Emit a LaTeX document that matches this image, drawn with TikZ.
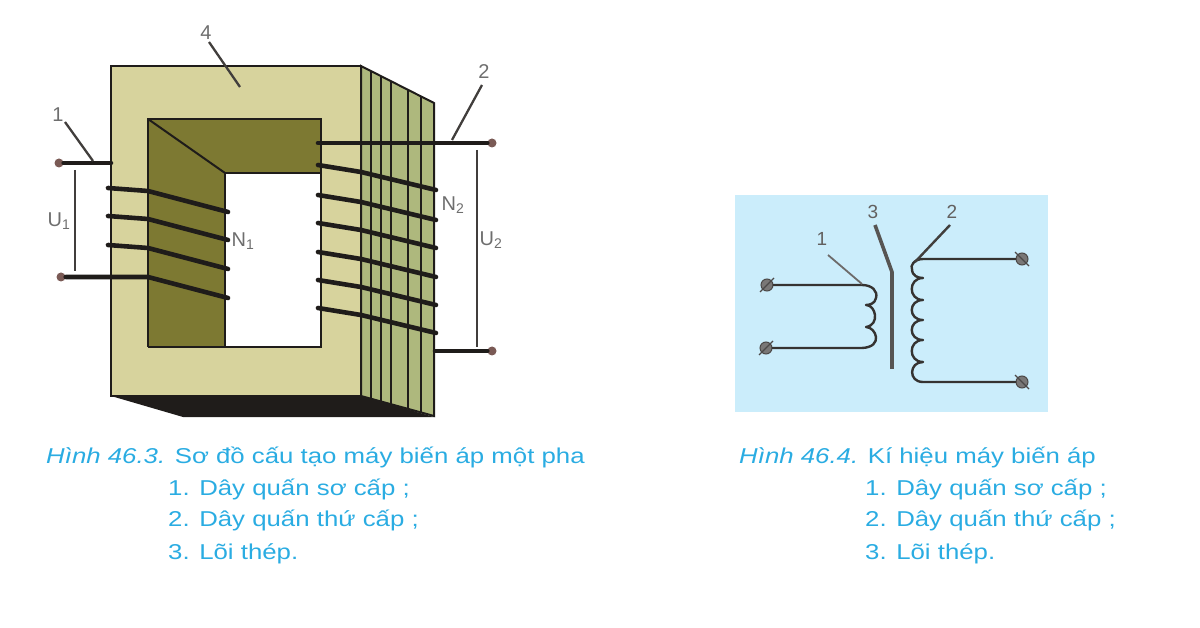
\documentclass[tikz,border=0pt]{standalone}
\usepackage{fontspec}
\setmainfont{Liberation Sans}
\newfontfamily\capfont[FakeStretch=1.2]{Liberation Sans}
\definecolor{cream}{HTML}{D7D39D}
\definecolor{olive}{HTML}{7D7932}
\definecolor{sage}{HTML}{AEB87D}
\definecolor{ink}{HTML}{1F1C1A}
\definecolor{capblue}{HTML}{2AACE2}
\definecolor{panel}{HTML}{CBEDFB}
\definecolor{labelgray}{HTML}{6E6E6E}
\definecolor{term}{HTML}{7A5A55}
\tikzset{
 coreline/.style={draw=ink,line width=2pt,line join=miter},
 coilwire/.style={draw=ink,line width=4.6pt,line cap=round,line join=round},
 leaderline/.style={draw=ink!85,line width=2.3pt},
 dimline/.style={draw=ink!85,line width=1.7pt},
 tagtext/.style={text=labelgray,font=\fontsize{20}{20}\selectfont,inner sep=0pt},
 darktag/.style={text=ink!70,font=\fontsize{19}{19}\selectfont,inner sep=0pt},
 captext/.style={text=capblue,font=\capfont\fontsize{21.5}{21.5}\selectfont,inner sep=0pt,anchor=base west},
 termdot/.style={circle,fill=term,inner sep=0pt,minimum size=9pt},
 screwdot/.style={circle,fill=ink!60,draw=ink!80,line width=1pt,inner sep=0pt,minimum size=12pt},
 symwire/.style={draw=ink!90,line width=2.4pt,line cap=round,line join=round},
}
\begin{document}
\begin{tikzpicture}[x=1pt,y=-1pt]
\useasboundingbox (0,0) rectangle (1200,628);
% shadow
\fill[ink] (111,396) -- (183,417) -- (434,417) -- (361,396) -- cycle;
% side laminations
\filldraw[fill=sage,coreline] (361,66) -- (434,103) -- (434,416) -- (361,396) -- cycle;
\foreach \xx/\yt/\yb in {371/71/399,381/76/401,391/81/404,408/90/409,421/96/413}
  \draw[coreline] (\xx,\yt) -- (\xx,\yb);
% front face
\filldraw[fill=cream,coreline] (111,66) rectangle (361,396);
\fill[white] (148,119) rectangle (321,347);
\fill[olive] (148,119) -- (321,119) -- (321,173) -- (225,173) -- (225,347) -- (148,347) -- cycle;
\draw[coreline] (148,347) -- (148,119) -- (321,119) -- (321,347) -- (148,347);
\draw[coreline] (321,173) -- (225,173) -- (225,347);
\draw[coreline] (148,119) -- (225,173);
% terminals and names
\node[termdot] (a1) at (59,163) {};
\node[termdot] (a2) at (61,277) {};
\node[termdot] (b1) at (492,143) {};
\node[termdot] (b2) at (492,351) {};
\coordinate (a1e) at (111,163);
\coordinate (a2k) at (148,277);
\coordinate (a2e) at (228,298);
\coordinate (b1e) at (318,143);
\coordinate (b2e) at (435,351);
% primary coil
\draw[coilwire] (a1) -- (a1e);
\foreach \ya in {188,216,245}
  \draw[coilwire] (108,\ya) -- (148,\ya+3) -- (228,\ya+24);
\draw[coilwire] (a2) -- (a2k) -- (a2e);
% secondary coil
\draw[coilwire] (b1e) -- (b1);
\foreach \yb in {165,195,223,252,280,308}
  \draw[coilwire] (318,\yb) -- (361,\yb+7) -- (436,\yb+25);
\draw[coilwire] (b2e) -- (b2);
% leaders
\coordinate (l4a) at (209,42); \coordinate (l4b) at (240,87);
\coordinate (l1a) at (65,122); \coordinate (l1b) at (93,161);
\coordinate (l2a) at (482,85); \coordinate (l2b) at (452,140);
\draw[leaderline] (l4a) -- (l4b);
\draw[leaderline] (l1a) -- (l1b);
\draw[leaderline] (l2a) -- (l2b);
\coordinate (u1a) at (75,170); \coordinate (u1b) at (75,271);
\coordinate (u2a) at (477,150); \coordinate (u2b) at (477,347);
\draw[dimline] (u1a) -- (u1b);
\draw[dimline] (u2a) -- (u2b);
\node[tagtext] (n4) at (206,33) {4};
\node[tagtext] (n1) at (58,115) {1};
\node[tagtext] (n2) at (484,72) {2};
\node[tagtext] (u1) at (59,221) {U\textsubscript{1}};
\node[tagtext] (u2) at (491,240) {U\textsubscript{2}};
\node[tagtext] (w1) at (243,241) {N\textsubscript{1}};
\node[tagtext] (w2) at (453,205) {N\textsubscript{2}};
% symbol panel
\fill[panel] (735,195) rectangle (1048,412);
\node[screwdot] (s1) at (767,285) {};
\node[screwdot] (s2) at (766,348) {};
\node[screwdot] (s3) at (1022,259) {};
\node[screwdot] (s4) at (1022,382) {};
\foreach \sn in {s1,s2}
  \draw[draw=ink!80,line width=1.2pt] (\sn.center) ++(-7,7) -- ++(14,-14);
\foreach \sn in {s3,s4}
  \draw[draw=ink!80,line width=1.2pt] (\sn.center) ++(-7,-7) -- ++(14,14);
\draw[symwire] (s1) -- (862,285) .. controls (872,285) and (878,291) .. (876,298)
  .. controls (875,304) and (869,305) .. (866,305)
  .. controls (876,305) and (880,325) .. (866,327)
  .. controls (876,327) and (884,347) .. (862,348) -- (s2);
\draw[symwire] (s3) -- (923,259) .. controls (914,259) and (910,266) .. (912,269)
  .. controls (912,276) and (918,278) .. (923,278)
  .. controls (908,278) and (908,300) .. (923,300)
  .. controls (908,300) and (908,320) .. (923,320)
  .. controls (908,320) and (908,340) .. (923,340)
  .. controls (908,340) and (908,362) .. (923,362)
  .. controls (909,362) and (908,382) .. (923,382) -- (s4);
\coordinate (c1) at (875,225); \coordinate (c2) at (892,272); \coordinate (c3) at (892,369);
\draw[draw=ink!75,line width=3.6pt] (c1) -- (c2) -- (c3);
\coordinate (p2a) at (950,225); \coordinate (p2b) at (915,262);
\draw[draw=ink!85,line width=2.4pt] (p2a) -- (p2b);
\coordinate (p1a) at (828,255); \coordinate (p1b) at (862,284);
\draw[draw=ink!65,line width=1.8pt] (p1a) -- (p1b);
\node[darktag] (t1) at (822,239) {1};
\node[darktag] (t3) at (873,212) {3};
\node[darktag] (t2) at (952,212) {2};
% captions
\node[captext] (c46a) at (46,463) {\textit{Hình 46.3.} Sơ đồ cấu tạo máy biến áp một pha};
\node[captext] (c46b) at (168,495) {1. Dây quấn sơ cấp ;};
\node[captext] (c46c) at (168,526) {2. Dây quấn thứ cấp ;};
\node[captext] (c46d) at (168,559) {3. Lõi thép.};
\node[captext] (c47a) at (739,463) {\textit{Hình 46.4.} Kí hiệu máy biến áp};
\node[captext] (c47b) at (865,495) {1. Dây quấn sơ cấp ;};
\node[captext] (c47c) at (865,526) {2. Dây quấn thứ cấp ;};
\node[captext] (c47d) at (865,559) {3. Lõi thép.};
\end{tikzpicture}
\end{document}
